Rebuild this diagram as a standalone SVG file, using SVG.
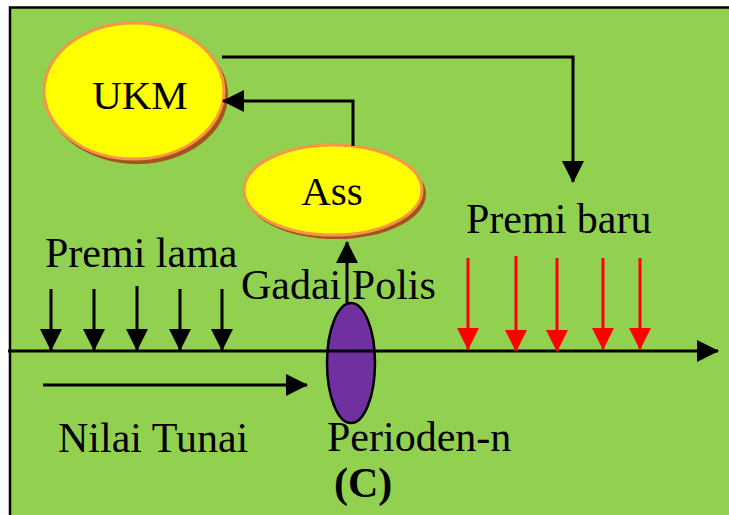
<svg xmlns="http://www.w3.org/2000/svg" width="729" height="515" viewBox="0 0 729 515">
  <style>
    .lbl { font-family: "Liberation Serif", "Times New Roman", serif; font-size: 42px; fill: #000; }
    .node-txt { font-family: "Liberation Serif", "Times New Roman", serif; font-size: 41px; fill: #000; text-anchor: middle; }
    .blk { stroke: #000; stroke-width: 3; fill: none; }
    .red { stroke: #FF0000; stroke-width: 3; fill: none; }
    .bubble { fill: #FFFF00; stroke: #F79646; stroke-width: 3; }
    .shadow { fill: #A5521B; }
  </style>
  <defs>
    <marker id="ah" markerUnits="userSpaceOnUse" markerWidth="22" markerHeight="22" viewBox="0 0 22 22" refX="21" refY="11" orient="auto">
      <path d="M0,0 L22,11 L0,22 Z" fill="#000"/>
    </marker>
    <marker id="ahRed" markerUnits="userSpaceOnUse" markerWidth="22" markerHeight="22" viewBox="0 0 22 22" refX="21" refY="11" orient="auto">
      <path d="M0,0 L22,11 L0,22 Z" fill="#FF0000"/>
    </marker>
  </defs>

  <!-- background panel -->
  <rect x="0" y="0" width="729" height="515" fill="#FFFFFF"/>
  <rect x="10" y="7.5" width="725" height="515" fill="#92D050" stroke="#000" stroke-width="2.5"/>

  <!-- UKM -->
  <g id="node-ukm">
    <ellipse class="shadow" cx="137" cy="95" rx="91" ry="69"/>
    <ellipse class="bubble" cx="134" cy="91" rx="90" ry="68"/>
    <text class="node-txt" x="140" y="109">UKM</text>
  </g>

  <!-- Ass -->
  <g id="node-ass">
    <ellipse class="shadow" cx="336" cy="194" rx="90" ry="45"/>
    <ellipse class="bubble" cx="333" cy="190" rx="89" ry="45"/>
    <text class="node-txt" x="332" y="205">Ass</text>
  </g>

  <!-- period marker on the timeline -->
  <g id="node-period">
    <ellipse cx="351" cy="363" rx="24" ry="60" fill="#7030A0" stroke="#000" stroke-width="2.5"/>
  </g>

  <g id="connectors">
    <!-- UKM to new premiums -->
    <polyline class="blk" points="222,57 573,57 573,182" marker-end="url(#ah)"/>
    <!-- Ass back to UKM -->
    <polyline class="blk" points="353,146 353,101 223,101" marker-end="url(#ah)"/>
    <!-- policy loan up to Ass -->
    <line class="blk" x1="347" y1="303" x2="347" y2="242" marker-end="url(#ah)"/>
    <!-- timeline -->
    <line class="blk" x1="8" y1="351" x2="718" y2="351" marker-end="url(#ah)"/>
    <!-- cash value -->
    <line class="blk" x1="43" y1="385" x2="307" y2="385" marker-end="url(#ah)"/>
    <!-- old premiums -->
    <line class="blk" x1="51" y1="289" x2="51" y2="350" marker-end="url(#ah)"/>
    <line class="blk" x1="94" y1="289" x2="94" y2="350" marker-end="url(#ah)"/>
    <line class="blk" x1="137" y1="286" x2="137" y2="350" marker-end="url(#ah)"/>
    <line class="blk" x1="180" y1="289" x2="180" y2="350" marker-end="url(#ah)"/>
    <line class="blk" x1="222" y1="289" x2="222" y2="350" marker-end="url(#ah)"/>
    <!-- new premiums -->
    <line class="red" x1="468" y1="258" x2="468" y2="349" marker-end="url(#ahRed)"/>
    <line class="red" x1="516" y1="256" x2="516" y2="351" marker-end="url(#ahRed)"/>
    <line class="red" x1="557" y1="258" x2="557" y2="351" marker-end="url(#ahRed)"/>
    <line class="red" x1="603" y1="258" x2="603" y2="349" marker-end="url(#ahRed)"/>
    <line class="red" x1="640" y1="258" x2="640" y2="349" marker-end="url(#ahRed)"/>
  </g>

  <!-- labels -->
  <text class="lbl" x="45" y="267">Premi lama</text>
  <text class="lbl" x="241" y="299">Gadai Polis</text>
  <text class="lbl" x="466" y="233">Premi baru</text>
  <text class="lbl" x="58" y="452">Nilai Tunai</text>
  <text class="lbl" x="327" y="451">Perioden-n</text>
  <text class="lbl" x="334" y="497" font-size="40" font-weight="bold">(C)</text>
</svg>
